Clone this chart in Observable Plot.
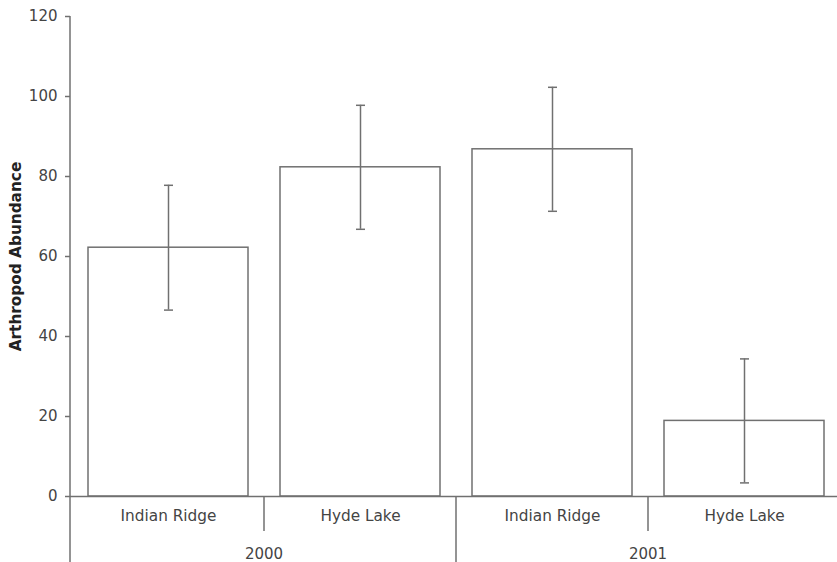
<!DOCTYPE html>
<html>
<head>
<meta charset="utf-8">
<script src="https://cdn.jsdelivr.net/npm/d3@7"></script>
<script src="https://cdn.jsdelivr.net/npm/@observablehq/plot@0.6"></script>
<style>
  html, body { margin: 0; padding: 0; background: #fff; overflow: hidden; }
  #chart { width: 837px; height: 562px; }
</style>
</head>
<body>
<div id="chart"></div>
<script>
// ---- data ----
const years = ["2000", "2000", "2001", "2001"];
const sites = ["Indian Ridge", "Hyde Lake", "Indian Ridge", "Hyde Lake"];
const means = [62.2, 82.3, 86.8, 18.9];
const errors = [15.6, 15.5, 15.5, 15.5];
const yTicks = [0, 20, 40, 60, 80, 100, 120];
const yLabel = "Arthropod Abundance";

const data = years.map((yr, i) => ({
  key: yr + "|" + sites[i],
  year: yr,
  site: sites[i],
  mean: means[i],
  lo: means[i] - errors[i],
  hi: means[i] + errors[i]
}));

const LINE = "#707070";
const TEXT = "#444";
const FONT = "DejaVu Sans, Verdana, sans-serif";
const FS = 15;

const capSymbol = {
  draw(ctx) { ctx.moveTo(-4.5, 0); ctx.lineTo(4.5, 0); }
};

// separators and group (year) labels drawn via the x scale
function groupAxis(index, scales, values, dimensions) {
  const x = scales.x;
  const bw = typeof x.bandwidth === "function" ? x.bandwidth() : 0;
  const y0 = dimensions.height - dimensions.marginBottom;
  const H = dimensions.height;
  const g = d3.create("svg:g");
  const keys = data.map(d => d.key);
  for (let i = 0; i < keys.length - 1; i++) {
    const xb = (x(keys[i]) + bw + x(keys[i + 1])) / 2;
    const yearChange = data[i].year !== data[i + 1].year;
    g.append("line")
      .attr("x1", xb).attr("x2", xb)
      .attr("y1", y0).attr("y2", yearChange ? H : y0 + 35)
      .attr("stroke", LINE).attr("stroke-width", 1.5);
  }
  const groups = d3.groups(data, d => d.year);
  for (const [yr, rows] of groups) {
    const xs = rows.map(r => x(r.key));
    const left = d3.min(xs), right = d3.max(xs) + bw;
    g.append("text")
      .attr("x", (left + right) / 2)
      .attr("y", y0 + 58)
      .attr("dy", "0.35em")
      .attr("text-anchor", "middle")
      .attr("fill", TEXT)
      .attr("font-family", FONT)
      .attr("font-size", FS)
      .text(yr);
  }
  const yTop = scales.y(d3.max(yTicks));
  g.append("line")
    .attr("x1", dimensions.marginLeft).attr("x2", dimensions.marginLeft)
    .attr("y1", yTop).attr("y2", H)
    .attr("stroke", LINE).attr("stroke-width", 1.5);
  return g.node();
}

const chart = Plot.plot({
  width: 837,
  height: 562,
  marginTop: 16,
  marginBottom: 66,
  marginLeft: 70,
  marginRight: 0,
  style: { fontFamily: FONT, fontSize: FS + "px", color: TEXT, background: "#fff" },
  x: {
    domain: data.map(d => d.key),
    paddingInner: 0.167,
    paddingOuter: 0.08,
    align: 0.565,
    axis: null
  },
  y: { domain: [0, 120], axis: null },
  marks: [
    Plot.barY(data, { x: "key", y: "mean", fill: "white", stroke: LINE, strokeWidth: 1.5 }),
    Plot.ruleX(data, { x: "key", y1: "lo", y2: "hi", stroke: LINE, strokeWidth: 1.5 }),
    Plot.dot(data, { x: "key", y: "hi", symbol: capSymbol, stroke: LINE, strokeWidth: 1.5, fill: "none" }),
    Plot.dot(data, { x: "key", y: "lo", symbol: capSymbol, stroke: LINE, strokeWidth: 1.5, fill: "none" }),
    Plot.ruleY([0], { stroke: LINE, strokeWidth: 1.5 }),
    Plot.axisY({
      ticks: yTicks,
      tickSize: 5,
      tickPadding: 8,
      label: null,
      stroke: LINE,
      strokeWidth: 1.5,
      fill: TEXT,
      fontSize: FS
    }),
    Plot.text(data, {
      x: "key",
      text: "site",
      frameAnchor: "bottom",
      dy: 24,
      fill: TEXT,
      fontSize: 15.3,
      fontFamily: FONT
    }),
    Plot.text([yLabel], {
      text: d => d,
      frameAnchor: "left",
      textAnchor: "middle",
      lineAnchor: "middle",
      rotate: -90,
      dx: -54,
      fill: "#222",
      fontWeight: "bold",
      fontSize: 15.3,
      fontFamily: FONT
    }),
    groupAxis
  ]
});

document.getElementById("chart").appendChild(chart);
</script>
</body>
</html>
